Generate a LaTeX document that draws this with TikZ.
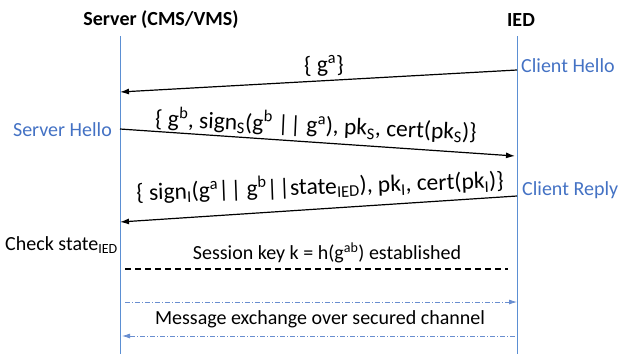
\documentclass[tikz,border=0pt]{standalone}
\usepackage{fontspec}
\setmainfont{Carlito}
\usepackage{tikz}
\usetikzlibrary{arrows.meta, positioning}
\definecolor{lifeblue}{HTML}{5B8FD3}
\definecolor{txtblue}{HTML}{4472C4}

\newcommand{\sbs}[1]{\textsubscript{#1}}
\newcommand{\sps}[1]{\textsuperscript{#1}}
\newcommand{\bars}{|\kern1.5pt|}

\begin{document}
\begin{tikzpicture}[x=1pt, y=-1pt,
  every node/.style={font=\fontsize{20}{22}\selectfont, inner sep=0pt},
  lifeline/.style={lifeblue, line width=0.8pt},
  msg/.style={black, line width=1.2pt, -{Latex[length=9pt, width=6pt]}},
  msglabel/.style={font=\fontsize{23.5}{25}\selectfont},
  role/.style={txtblue},
  secure/.style={txtblue!80, line width=0.8pt, dash pattern=on 5pt off 2pt on 1pt off 2pt,
    -{Latex[length=8pt, width=5pt]}}]
\useasboundingbox (0,0) rectangle (619,354);
% parties
\node[font=\fontsize{20}{22}\selectfont\bfseries] (srv) at (161,20) {Server (CMS/VMS)};
\node[font=\fontsize{20}{22}\selectfont\bfseries] (ied) at (521,20) {IED};
\coordinate (srvtop) at (120,36);
\coordinate (srvbot) at (120,354);
\coordinate (iedtop) at (517,36);
\coordinate (iedbot) at (517,354);
\draw[lifeline] (srvtop) -- (srvbot);
\draw[lifeline] (iedtop) -- (iedbot);

% handshake
\coordinate (m1a) at (517,70);  \coordinate (m1b) at (120,92);
\coordinate (m2a) at (120,129); \coordinate (m2b) at (515,156);
\coordinate (m3a) at (517,196); \coordinate (m3b) at (120,222);
\draw[msg] (m1a) -- (m1b);
\draw[msg] (m2a) -- (m2b);
\draw[msg] (m3a) -- (m3b);
\node[msglabel, rotate=2] (l1) at (324,66) {\{ g\sps{a}\}};
\node[msglabel, rotate=-2.5] (l2) at (316,125) {\{ g\sps{b}, sign\sbs{S}(g\sps{b} \bars{} g\sps{a}), pk\sbs{S}, cert(pk\sbs{S})\}};
\node[msglabel, rotate=2] (l3) at (320,186) {\{ sign\sbs{I}(g\sps{a}\bars{} g\sps{b}\bars{}state\sbs{IED}), pk\sbs{I}, cert(pk\sbs{I})\}};
\node[role, anchor=west] (chello) at (521,66) {Client Hello};
\node[role, anchor=east] (shello) at (112,130) {Server Hello};
\node[role, anchor=west] (creply) at (522,190) {Client Reply};
\node[anchor=east] (check) at (118,245) {Check state\sbs{IED}};

% session key
\node (skey) at (327,253) {Session key k = h(g\sps{ab}) established};
\coordinate (kl) at (125,269);
\coordinate (kr) at (508,269);
\draw[black, line width=1.2pt, dash pattern=on 6pt off 4pt] (kl) -- (kr);

% secured channel
\coordinate (s1a) at (125,302); \coordinate (s1b) at (517,302);
\coordinate (s2a) at (515,336); \coordinate (s2b) at (122,336);
\draw[secure] (s1a) -- (s1b);
\draw[secure] (s2a) -- (s2b);
\node (chan) at (320,319) {Message exchange over secured channel};
\end{tikzpicture}
\end{document}
